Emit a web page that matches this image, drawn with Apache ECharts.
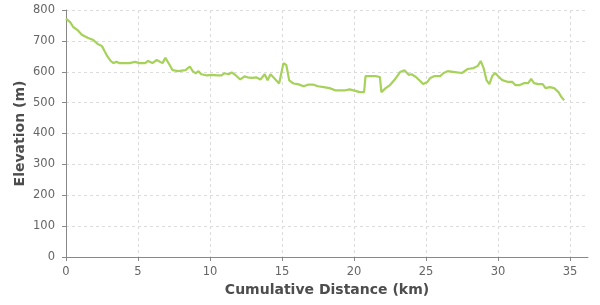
<!DOCTYPE html>
<html>
<head>
<meta charset="utf-8">
<script src="https://cdn.jsdelivr.net/npm/echarts@6/dist/echarts.min.js"></script>
<style>html,body{margin:0;padding:0;background:#fff}#c{width:600px;height:305px}</style>
</head>
<body>
<div id="c"></div>
<script>
var distanceKm = [0,0.3,0.5,0.8,1.1,1.5,1.9,2.2,2.5,2.7,2.9,3.1,3.3,3.5,3.7,4.1,4.4,4.8,5.1,5.5,5.7,6.0,6.3,6.7,6.9,7.2,7.4,7.8,8.3,8.6,8.8,9.0,9.2,9.4,9.8,10.1,10.5,10.8,11.0,11.3,11.5,11.8,12.1,12.4,12.6,12.9,13.2,13.5,13.8,14.0,14.2,14.4,14.8,15.1,15.3,15.5,15.8,16.1,16.5,16.8,17.2,17.5,17.9,18.3,18.7,19.0,19.4,19.7,20.1,20.4,20.7,20.8,21.1,21.5,21.8,21.9,22.2,22.5,22.8,23.2,23.5,23.8,24.0,24.3,24.6,24.8,25.1,25.3,25.6,26.0,26.2,26.5,27.0,27.5,27.9,28.3,28.6,28.8,29.0,29.2,29.4,29.6,29.8,30.0,30.3,30.7,31.0,31.2,31.5,31.8,32.1,32.3,32.5,32.8,33.1,33.3,33.6,33.9,34.2,34.4,34.6];
var elevationM = [772,760,745,735,720,710,703,690,683,665,648,635,628,632,628,628,628,632,628,628,635,628,638,628,645,622,605,602,605,617,602,595,602,592,588,590,588,588,595,592,598,588,575,585,582,580,582,575,592,572,592,582,562,628,622,572,562,560,553,558,558,553,550,547,540,540,540,543,538,534,534,586,586,586,583,534,547,557,573,599,605,590,592,583,570,560,567,580,586,586,595,602,599,596,609,612,619,635,612,573,560,586,596,586,573,567,567,557,557,563,563,577,563,560,560,547,550,547,534,518,508];
var xTicks = [0,5,10,15,20,25,30,35];
var yTicks = [0,100,200,300,400,500,600,700,800];

var points = distanceKm.map(function(d,i){return [d, elevationM[i]];});
var chart = echarts.init(document.getElementById('c'), null, {renderer:'canvas'});
var font = 'DejaVu Sans';
chart.setOption({
  animation:false,
  backgroundColor:'#ffffff',
  grid:{left:66,right:12,top:10,bottom:48,containLabel:false},
  xAxis:{
    type:'value', min:xTicks[0], max:36.25, interval:5, offset:3,
    name:'Cumulative Distance (km)', nameLocation:'middle', nameGap:23, nameMoveOverlap:false,
    nameTextStyle:{fontFamily:font,fontSize:14,fontWeight:'bold',color:'#4d4d4d'},
    axisLine:{show:true,lineStyle:{color:'#888',width:1}},
    axisTick:{show:true,length:4,lineStyle:{color:'#888'}},
    axisLabel:{fontFamily:font,fontSize:11.5,color:'#666',margin:6,showMaxLabel:false,
      formatter:function(v){return xTicks.indexOf(v)>=0?String(v):'';}},
    splitLine:{show:true,showMaxLine:false,lineStyle:{color:'#dcdcdc',type:[3,3],width:1}}
  },
  yAxis:{
    type:'value', min:yTicks[0], max:yTicks[yTicks.length-1], interval:100, offset:4,
    name:'Elevation (m)', nameLocation:'middle', nameGap:35, nameMoveOverlap:false,
    nameTextStyle:{fontFamily:font,fontSize:14,fontWeight:'bold',color:'#4d4d4d'},
    axisLine:{show:true,lineStyle:{color:'#888',width:1}},
    axisTick:{show:true,length:4,lineStyle:{color:'#888'}},
    axisLabel:{fontFamily:font,fontSize:11.5,color:'#666',margin:7},
    splitLine:{show:true,lineStyle:{color:'#dcdcdc',type:[3,3],width:1}}
  },
  series:[{
    type:'line', data:points, showSymbol:false, symbol:'none',
    lineStyle:{color:'#a6d25a',width:2.2}, itemStyle:{color:'#a6d25a'}
  }]
});
</script>
</body>
</html>
